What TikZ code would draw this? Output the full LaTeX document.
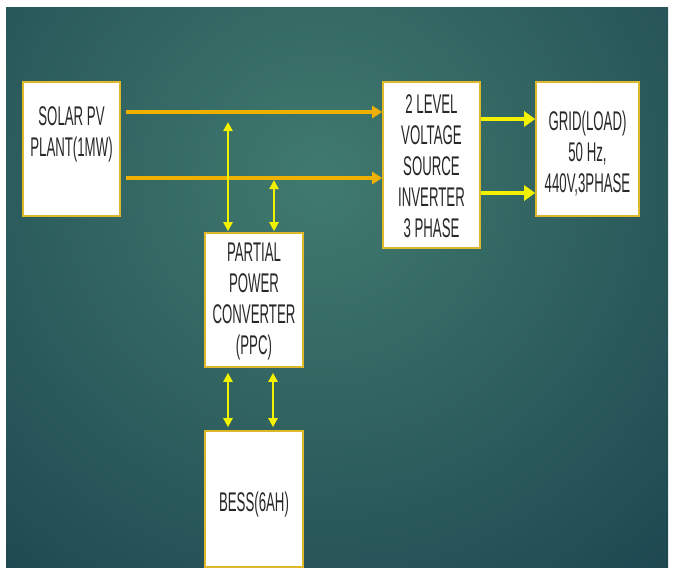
\documentclass[tikz,border=0pt]{standalone}
\usepackage{fontspec}
\setmainfont{Liberation Sans}[FakeStretch=0.49]
\usetikzlibrary{arrows.meta}
\definecolor{bgin}{RGB}{64,122,110}
\definecolor{bgout}{RGB}{20,56,72}
\definecolor{boxline}{RGB}{222,184,40}
\definecolor{orangearrow}{RGB}{240,176,0}
\definecolor{yellowarrow}{RGB}{242,242,0}
\definecolor{txt}{RGB}{40,40,40}
\begin{document}
\begin{tikzpicture}[x=1pt,y=-1pt,
 block/.style={draw=boxline, fill=white, line width=1.6pt, inner sep=0pt},
 lbl/.style={text=txt, font=\fontsize{27}{31}\selectfont, align=center, inner sep=0pt},
 pvflow/.style={draw=orangearrow, line width=4pt, -{Triangle[length=10pt,width=12pt]}},
 acflow/.style={draw=yellowarrow, line width=3.5pt, -{Triangle[length=11pt,width=15pt]}},
 link/.style={draw=yellowarrow, line width=2.5pt, {Triangle[length=9pt,width=9pt]}-{Triangle[length=9pt,width=9pt]}}]

\useasboundingbox (0,0) rectangle (674,575);
\fill[white] (0,0) rectangle (674,575);
\begin{scope}
\clip (6,8) rectangle (668,567);
\fill[bgout] (6,8) rectangle (668,567);
\shade[inner color=bgin, outer color=bgout] (320,180) circle (680);
\end{scope}

% boxes
\node[block, minimum width=97pt, minimum height=134pt] (solar) at (71.5,149) {};
\node[lbl] (solartext) at (71.5,134) {SOLAR PV\\PLANT(1MW)};

\node[block, minimum width=97pt, minimum height=166pt] (inv) at (431.5,165) {};
\node[lbl] (invtext) at (431.5,166) {2 LEVEL\\VOLTAGE\\SOURCE\\INVERTER\\3 PHASE};

\node[block, minimum width=103pt, minimum height=134pt] (grid) at (587.5,149) {};
\node[lbl] (gridtext) at (587.5,153) {GRID(LOAD)\\50 Hz,\\440V,3PHASE};

\node[block, minimum width=98pt, minimum height=134pt] (ppc) at (254,300) {};
\node[lbl] (ppctext) at (254,302) {PARTIAL\\POWER\\CONVERTER\\(PPC)};

\node[block, minimum width=98pt, minimum height=136pt] (bess) at (254,499) {};
\node[lbl] (besstext) at (254,505) {BESS(6AH)};

% helper coordinates
\coordinate (dc1) at (200,112);
\coordinate (dc2) at (200,178);
\coordinate (ac1) at (500,119);
\coordinate (ac2) at (500,193);
\coordinate (t1) at (228,122);
\coordinate (t2) at (274,180);

% PV to inverter
\draw[pvflow, shorten <=5pt] (solar.east |- dc1) -- (inv.west |- dc1);
\draw[pvflow, shorten <=5pt] (solar.east |- dc2) -- (inv.west |- dc2);

% inverter to grid
\draw[acflow] (inv.east |- ac1) -- (grid.west |- ac1);
\draw[acflow] (inv.east |- ac2) -- (grid.west |- ac2);

% DC link to PPC
\draw[link, shorten >=1pt] (t1) -- (t1 |- ppc.north);
\draw[link, shorten >=1pt] (t2) -- (t2 |- ppc.north);

% PPC to BESS
\draw[link, shorten <=5pt, shorten >=3pt] ([xshift=-26pt]ppc.south) -- ([xshift=-26pt]bess.north);
\draw[link, shorten <=5pt, shorten >=3pt] ([xshift=19pt]ppc.south) -- ([xshift=19pt]bess.north);
\end{tikzpicture}
\end{document}
